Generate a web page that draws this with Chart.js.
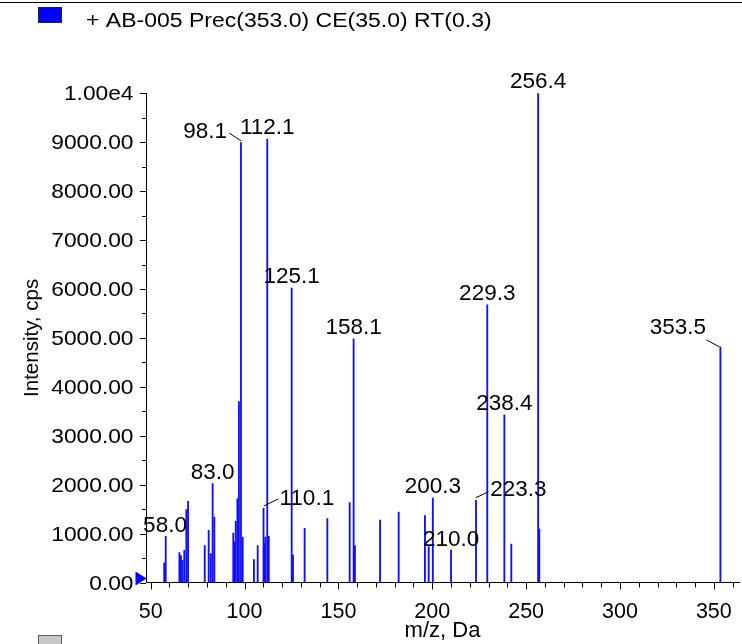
<!DOCTYPE html>
<html><head><meta charset="utf-8">
<script src="https://cdn.jsdelivr.net/npm/chart.js@4/dist/chart.umd.min.js"></script>
<style>html,body{margin:0;padding:0;background:#fff}#wrap{width:742px;height:644px;position:relative}</style>
</head><body><div id="wrap"><canvas id="c" width="742" height="644"></canvas></div>
<script>
// ---- data ----
const mzValues = [57.2, 58.0, 65.3, 66.1, 66.9, 67.9, 69.0, 69.9, 78.8, 80.9, 82.0, 83.0, 83.9,
  94.0, 94.5, 95.3, 96.2, 97.0, 98.1, 99.0, 105.0, 107.0, 110.1, 110.5, 111.1, 112.1, 112.9,
  125.1, 125.8, 132.0, 144.1, 156.0, 158.1, 158.8, 172.2, 182.1, 196.1, 198.1, 200.3, 210.0,
  223.3, 229.3, 238.4, 242.1, 256.4, 257.0, 353.5];
const intensities = [400, 945, 610, 548, 460, 658, 1489, 1660, 753, 1067, 590, 2021, 1339,
  1012, 828, 1251, 1708, 3698, 8994, 930, 467, 753, 1517, 794, 930, 9063, 945,
  6016, 562, 1108, 1305, 1632, 4980, 753, 1278, 1442, 1366, 732, 1728, 665,
  1681, 5675, 3425, 787, 10000, 1094, 4816];
const labelledPeaks = ['58.0', '83.0', '98.1', '110.1', '112.1', '125.1', '158.1', '200.3',
  '210.0', '223.3', '229.3', '238.4', '256.4', '353.5'];
const xTickValues = [50, 100, 150, 200, 250, 300, 350];
const yTickValues = [0, 1000, 2000, 3000, 4000, 5000, 6000, 7000, 8000, 9000, 10000];
const yTickLabels = ['0.00', '1000.00', '2000.00', '3000.00', '4000.00', '5000.00', '6000.00',
  '7000.00', '8000.00', '9000.00', '1.00e4'];
const seriesName = '+ AB-005 Prec(353.0) CE(35.0) RT(0.3)';
const xTitle = 'm/z, Da';
const yTitle = 'Intensity, cps';

// ---- label placement (styling, not data) ----
const labelPlacement = {
  '58.0':  {align: 'center', dx: -0.7, dy: -12.3},
  '83.0':  {align: 'center', dx: 0, dy: -12.7},
  '98.1':  {align: 'right', dx: -14, dy: -12.7, leader: [-11.7, -9.4, 0, -1.7]},
  '110.1': {align: 'left', dx: 16, dy: -11.6, leader: [0.2, -2.3, 14.7, -9.3]},
  '112.1': {align: 'center', dx: 0, dy: -13.3},
  '125.1': {align: 'center', dx: 0, dy: -13},
  '158.1': {align: 'center', dx: 0, dy: -13},
  '200.3': {align: 'center', dx: 0, dy: -12.7},
  '210.0': {align: 'center', dx: 0, dy: -12.5},
  '223.3': {align: 'left', dx: 14.3, dy: -12.3, leader: [0, -2.6, 12.6, -8.6]},
  '229.3': {align: 'center', dx: 0, dy: -12.7},
  '238.4': {align: 'center', dx: 0, dy: -13},
  '256.4': {align: 'center', dx: 0, dy: -13},
  '353.5': {align: 'right', dx: -14.3, dy: -21, leader: [-14, -7, -1, 0]}
};

const FONT = '"Liberation Sans", Arial, sans-serif';

function stretchedText(ctx, text, x, y, sx, align) {
  ctx.save();
  ctx.translate(x, y);
  ctx.scale(sx, 1);
  ctx.textAlign = align;
  ctx.fillText(text, 0, 0);
  ctx.restore();
}

const decorPlugin = {
  id: 'decor',
  afterDraw(chart) {
    const ctx = chart.ctx;
    const xs = chart.scales.x, ys = chart.scales.y;
    const ca = chart.chartArea;
    ctx.save();
    // minor / major ticks
    ctx.strokeStyle = '#000';
    ctx.lineWidth = 1;
    ctx.beginPath();
    for (let v = 50; v <= 360; v += 10) {
      const px = Math.round(xs.getPixelForValue(v)) + 0.5;
      const len = (v % 50 === 0) ? 7 : 5;
      ctx.moveTo(px, ca.bottom);
      ctx.lineTo(px, ca.bottom + len);
    }
    for (let v = 0; v <= 10000; v += 500) {
      const py = Math.round(ys.getPixelForValue(v)) + 0.5;
      const len = (v % 1000 === 0) ? 6 : 4;
      ctx.moveTo(ca.left, py);
      ctx.lineTo(ca.left - len, py);
    }
    ctx.stroke();

    // y tick labels (slightly wide face, as in the reference)
    ctx.fillStyle = '#000';
    ctx.font = '19.8px ' + FONT;
    ctx.textBaseline = 'alphabetic';
    yTickValues.forEach((v, i) => {
      const py = ys.getPixelForValue(v);
      stretchedText(ctx, yTickLabels[i], 133.5, py + 0.358 * 19.8, 1.15, 'right');
    });

    // peak labels
    ctx.font = '22.5px ' + FONT;
    labelledPeaks.forEach(t => {
      const i = mzValues.indexOf(parseFloat(t));
      if (i < 0) return;
      const p = labelPlacement[t];
      const px = xs.getPixelForValue(mzValues[i]);
      const py = ys.getPixelForValue(intensities[i]);
      ctx.textAlign = p.align;
      ctx.fillText(t, px + p.dx, py + p.dy + 0.358 * 22.5);
      if (p.leader) {
        ctx.beginPath();
        ctx.moveTo(px + p.leader[0], py + p.leader[1]);
        ctx.lineTo(px + p.leader[2], py + p.leader[3]);
        ctx.stroke();
      }
    });

    // blue marker triangle on y axis at baseline
    ctx.fillStyle = '#0000ff';
    ctx.beginPath();
    ctx.moveTo(135.5, ca.bottom - 11);
    ctx.lineTo(146.5, ca.bottom - 4);
    ctx.lineTo(135.5, ca.bottom + 3);
    ctx.closePath();
    ctx.fill();

    // top rule
    ctx.beginPath();
    ctx.moveTo(0, 2.5);
    ctx.lineTo(742, 2.5);
    ctx.strokeStyle = '#000';
    ctx.stroke();

    // legend
    ctx.fillStyle = '#0000ff';
    ctx.fillRect(38, 7, 24, 16);
    ctx.strokeStyle = '#202040';
    ctx.strokeRect(38.5, 7.5, 23, 15);
    ctx.fillStyle = '#000';
    ctx.font = '19.5px ' + FONT;
    stretchedText(ctx, seriesName, 86, 27.3, 1.18, 'left');

    // partial second legend box at bottom
    ctx.fillStyle = '#c8c8c8';
    ctx.fillRect(38, 635, 24, 12);
    ctx.strokeStyle = '#606060';
    ctx.strokeRect(38.5, 635.5, 23, 12);
    ctx.restore();
  }
};

new Chart(document.getElementById('c'), {
  type: 'bar',
  data: {
    datasets: [{
      label: seriesName,
      data: mzValues.map((m, i) => ({x: m, y: intensities[i]})),
      backgroundColor: '#1010ff',
      borderWidth: 0,
      barThickness: 1.2,
      grouped: false
    }]
  },
  options: {
    responsive: false,
    devicePixelRatio: 1,
    animation: false,
    layout: {padding: {top: 93.3, right: 3, left: 0, bottom: 0}},
    plugins: {legend: {display: false}, tooltip: {enabled: false}},
    scales: {
      x: {
        type: 'linear',
        offset: false,
        min: 47.5, max: 363.4,
        afterBuildTicks: s => { s.ticks = xTickValues.map(v => ({value: v})); },
        afterFit: s => { s.height = 61.5; },
        grid: {display: false, offset: false},
        border: {display: true, color: '#000', width: 1},
        ticks: {color: '#000', font: {family: FONT, size: 21.5}, padding: 9, maxRotation: 0, autoSkip: false,
          callback: v => String(v)},
        title: {display: true, text: xTitle, color: '#000', font: {family: FONT, size: 22}, padding: {top: 0, bottom: 0}}
      },
      y: {
        min: 0, max: 10000,
        afterBuildTicks: s => { s.ticks = yTickValues.map(v => ({value: v})); },
        afterFit: s => { s.width = 146; },
        grid: {display: false},
        border: {display: true, color: '#000', width: 1},
        ticks: {display: false},
        title: {display: true, text: yTitle, color: '#000', font: {family: FONT, size: 20.5}, padding: {top: 20, bottom: 0}}
      }
    }
  },
  plugins: [decorPlugin]
});
</script>
</body></html>
